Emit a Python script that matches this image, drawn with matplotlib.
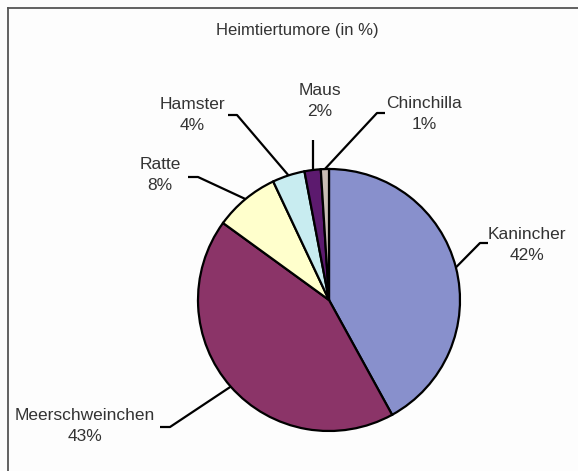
import numpy as np
import matplotlib
matplotlib.use("Agg")
import matplotlib.pyplot as plt

title = "Heimtiertumore (in %)"
categories = ["Kanincher", "Meerschweinchen", "Ratte", "Hamster", "Maus", "Chinchilla"]
values = [42, 43, 8, 4, 2, 1]
colors = ["#8890CC", "#8B3468", "#FFFFCC", "#C8ECF0", "#5C1A6E", "#C9BDB4"]

# layout (pixel coordinates, y measured from top)
W, H = 578, 471
center_px = (329, 300)
radius = 131
# label centres and leader-line elbows (x, y from top); None x -> vertical leader
label_pos = {
    "Kanincher": (527, 245),
    "Meerschweinchen": (85, 426),
    "Ratte": (160, 175),
    "Hamster": (192, 115),
    "Maus": (320, 101),
    "Chinchilla": (424, 114),
}
elbow = {
    "Kanincher": ((488, 243), (480, 243)),
    "Meerschweinchen": ((160, 427), (170, 427)),
    "Ratte": ((188, 177), (198, 177)),
    "Hamster": ((228, 115), (237, 115)),
    "Maus": ((None, 140), (None, 140)),
    "Chinchilla": ((385, 113), (377, 113)),
}

plt.rcParams['font.family'] = ['Liberation Sans', 'DejaVu Sans']
fig = plt.figure(figsize=(W / 100, H / 100), dpi=100)
fig.patch.set_facecolor("#FDFDFD")
ax = fig.add_axes([0, 0, 1, 1])

def Y(y):
    return H - y

cx, cy = center_px[0], Y(center_px[1])
wedges, _ = ax.pie(values, colors=colors, startangle=90, counterclock=False,
                   center=(cx, cy), radius=radius,
                   wedgeprops=dict(edgecolor="black", linewidth=1.6))
ax.set_xlim(0, W)
ax.set_ylim(0, H)
ax.set_aspect("equal")
ax.axis("off")

for w, cat, v in zip(wedges, categories, values):
    mid = np.deg2rad((w.theta1 + w.theta2) / 2)
    px = cx + radius * np.cos(mid)
    py = cy + radius * np.sin(mid)
    (ex0, ey0), (ex1, ey1) = elbow[cat]
    if ex0 is None:
        ex0 = ex1 = px
    ax.plot([ex0, ex1, px], [Y(ey0), Y(ey1), py], color="black", lw=1.6,
            solid_capstyle="butt", zorder=5)
    lx, ly = label_pos[cat]
    ax.text(lx, Y(ly), f"{cat}\n{v}%", ha="center", va="center",
            fontsize=12.5, color="#333333", linespacing=1.45)

ax.text(297, Y(30), title, ha="center", va="center", fontsize=12, color="#333333")

# frame lines
ax.plot([8, 8], [Y(8), 0], color="#555555", lw=1.3, clip_on=False)
ax.plot([8, W], [Y(8), Y(8)], color="#555555", lw=1.3, clip_on=False)

fig.savefig("out.png", dpi=100, facecolor=fig.get_facecolor())
